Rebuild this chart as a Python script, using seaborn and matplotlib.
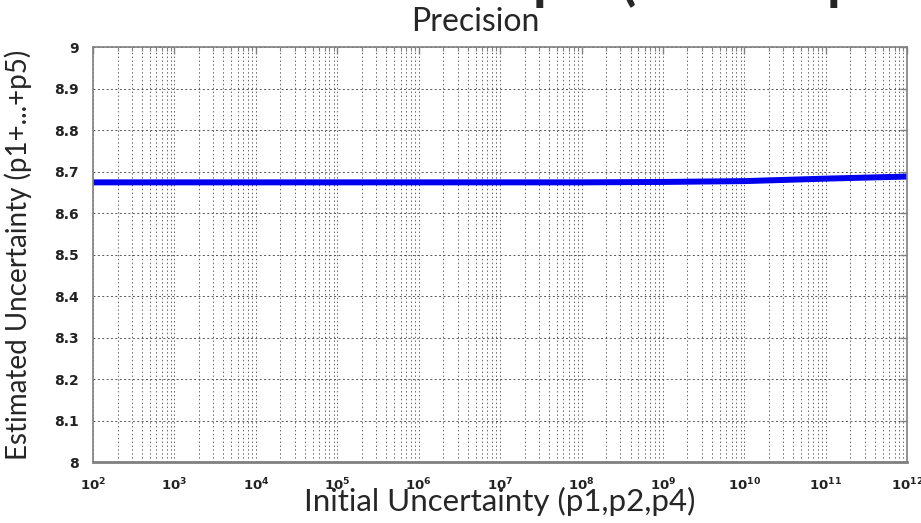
import numpy as np
import pandas as pd
import matplotlib
matplotlib.use("Agg")
import matplotlib.pyplot as plt
import matplotlib.ticker as mticker
import seaborn as sns

# values
initial_uncertainty = [1e2, 1e3, 1e4, 1e5, 1e6, 1e7, 1e8, 1e9, 1e10, 1e11, 1e12]
estimated_uncertainty = [8.675, 8.675, 8.675, 8.675, 8.675, 8.675, 8.675, 8.676, 8.678, 8.684, 8.689]
y_ticks = [8.0, 8.1, 8.2, 8.3, 8.4, 8.5, 8.6, 8.7, 8.8, 8.9, 9.0]
y_tick_labels = ["8", "8.1", "8.2", "8.3", "8.4", "8.5", "8.6", "8.7", "8.8", "8.9", "9"]

df = pd.DataFrame({"initial": initial_uncertainty, "estimated": estimated_uncertainty})

sns.set_theme(style="white")
plt.rcParams["font.family"] = ["Lato", "DejaVu Sans"]

fig = plt.figure(figsize=(9.21, 5.23), dpi=100)
ax = fig.add_axes([0.101, 0.1157, 0.884, 0.7935])

sns.lineplot(data=df, x="initial", y="estimated", ax=ax, color="#0000ee", linewidth=4.3)

ax.set_xscale("log")
ax.set_xlim(1e2, 1e12)
ax.set_ylim(8, 9)
ax.set_yticks(y_ticks)
ax.set_yticklabels(y_tick_labels)
ax.xaxis.set_major_locator(mticker.LogLocator(base=10, numticks=20))
ax.xaxis.set_minor_locator(mticker.LogLocator(base=10, subs=np.arange(2, 10), numticks=20))

# matlab style dotted grid
ax.grid(True, which="major", axis="y", color="#555555", linestyle=(0, (2, 2.5)), linewidth=0.7)
ax.grid(True, which="both", axis="x", color="#666666", linestyle=(0, (1.5, 2.5)), linewidth=0.7)

for side in ["left", "right", "top", "bottom"]:
    ax.spines[side].set_color("#808080")
    ax.spines[side].set_linewidth(1.2)
ax.spines["bottom"].set_linewidth(2)

ax.tick_params(axis="both", which="both", direction="in", top=True, right=True,
               colors="#808080", labelcolor="#222222")
ax.tick_params(axis="both", which="major", length=5, width=1)
ax.tick_params(axis="x", which="minor", length=3, width=0.8)
ax.tick_params(axis="x", which="major", labelsize=9.5, pad=10)
ax.tick_params(axis="y", which="major", labelsize=10, pad=10)
for lbl in ax.get_xticklabels() + ax.get_yticklabels():
    lbl.set_fontweight("bold")
    lbl.set_family("DejaVu Sans")

ax.set_title("Precision", fontsize=23, pad=12, x=0.469)
ax.set_ylabel("Estimated Uncertainty (p1+...+p5)", fontsize=20)
ax.yaxis.set_label_coords(-0.075, 0.5)
ax.set_xlabel("Initial Uncertainty (p1,p2,p4)", fontsize=22.5)
ax.xaxis.set_label_coords(0.5, -0.06)

# bits of the slide heading cut off at the top edge: only a few px of descenders show
renderer = fig.canvas.get_renderer()
fig_h = fig.bbox.height
for xpos, ch in [(0.595, "p"), (0.683, "("), (0.915, "p")]:
    t = fig.text(xpos, 0.5, ch, fontsize=40, fontweight="bold", ha="center", va="bottom")
    bb = t.get_window_extent(renderer)
    shift = (fig_h - 8) - bb.y0
    t.set_y(0.5 + shift / fig_h)

fig.savefig("out.png", dpi=100)
